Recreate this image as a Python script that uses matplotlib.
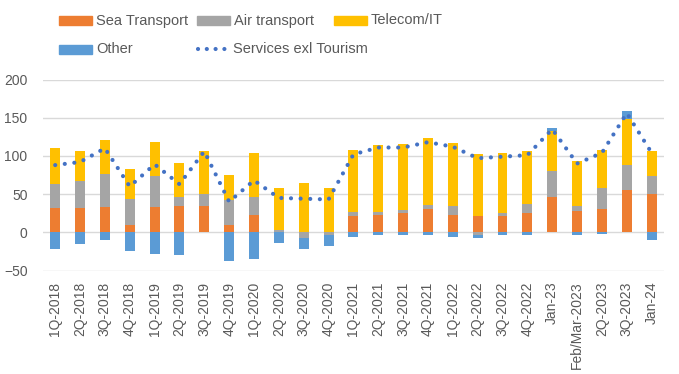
import matplotlib
import matplotlib.pyplot as plt
import numpy as np
from matplotlib.patches import Rectangle
from matplotlib.lines import Line2D

matplotlib.rcParams['font.family'] = ['Liberation Sans', 'DejaVu Sans']

# ---------------- data ---------------- #
quarters = ['1Q-2018', '2Q-2018', '3Q-2018', '4Q-2018', '1Q-2019', '2Q-2019', '3Q-2019',
            '4Q-2019', '1Q-2020', '2Q-2020', '3Q-2020', '4Q-2020', '1Q-2021', '2Q-2021',
            '3Q-2021', '4Q-2021', '1Q-2022', '2Q-2022', '3Q-2022', '4Q-2022', 'Jan-23',
            'Feb/Mar-2023', '2Q-2023', '3Q-2023', 'Jan-24']
sea = [32, 32, 33, 10, 33, 34, 34, 10, 23, 0, 0, 0, 22, 23, 25, 30, 23, 21, 22, 25,
       46, 28, 30, 55, 50]
air = [31, 35, 43, 33, 41, 12, 16, 32, 23, 3, -7, -3, 4, 3.5, 4, 6, 11, -3, 3, 12,
       34, 6, 28, 33, 24]
telecom = [47, 39, 45, 40, 44, 45, 56, 33, 58, 55, 65, 58, 82, 87.5, 86, 87, 83, 81, 79, 69,
           52, 59, 50, 60, 32]
other = [-22, -15, -10, -24, -28, -30, 0, -37, -35, -14, -14.5, -14.5, -6, -3, -4, -4, -6, -4,
         -4, -4, 4, -3, -2, 10.5, -10]
services = [88, 92, 110, 60, 89, 63, 106, 40, 68, 45, 44, 43, 102, 111, 111, 118, 112, 97,
            99, 101, 135, 90, 104, 156, 104]

# ---------------- plot ---------------- #
W, H = 679, 374
fig = plt.figure(figsize=(W / 100, H / 100), dpi=100)
ax = fig.add_axes([0.063, 0.2767, 0.915, 0.5107])

x = np.arange(len(quarters))
width = 0.4
pos_bottom = np.zeros(len(x))
neg_bottom = np.zeros(len(x))
series = [(sea, '#ED7D31'), (air, '#A5A5A5'), (telecom, '#FFC000'), (other, '#5B9BD5')]
for vals, col in series:
  v = np.array(vals, dtype=float)
  bottom = np.where(v >= 0, pos_bottom, neg_bottom)
  ax.bar(x, v, width, bottom=bottom, color=col, zorder=2)
  pos_bottom = pos_bottom + np.where(v >= 0, v, 0)
  neg_bottom = neg_bottom + np.where(v < 0, v, 0)

dots = (0, (0.01, 2.3))
ax.plot(x, services, color='#4472C4', linewidth=3, linestyle=dots,
        dash_capstyle='round', zorder=3)

ax.set_xlim(-0.5, len(x) - 0.5)
ax.set_ylim(-50, 200)
ax.set_yticks(np.arange(-50, 201, 50))
ax.set_xticks(x)
ax.set_xticklabels(quarters, rotation=90)
ax.tick_params(length=0, labelcolor='#595959')
ax.tick_params(axis='x', labelsize=10, pad=8)
ax.tick_params(axis='y', labelsize=10, pad=11)
ax.grid(axis='y', color='#D9D9D9', linewidth=1, zorder=0)
ax.set_axisbelow(True)
for s in ax.spines.values():
  s.set_visible(False)

# legend drawn by hand (pixel positions from the reference)
leg_font = dict(family=['Liberation Sans Narrow', 'Liberation Sans'], size=10.5, color='#595959')
patch_items = [(59, 20.5, '#ED7D31', 'Sea Transport'),
               (197, 20.5, '#A5A5A5', 'Air transport'),
               (334, 20.5, '#FFC000', 'Telecom/IT'),
               (59, 49, '#5B9BD5', 'Other')]
for px, py, col, lab in patch_items:
  fig.add_artist(Rectangle((px / W, 1 - (py + 4.5) / H), 33 / W, 9 / H,
                           color=col, transform=fig.transFigure))
  fig.text((px + 37) / W, 1 - py / H, lab, va='center', ha='left', **leg_font)
fig.add_artist(Line2D([198 / W, 228 / W], [1 - 49 / H, 1 - 49 / H], color='#4472C4',
                      linewidth=3, linestyle=(0, (0.01, 2.1)), dash_capstyle='round',
                      transform=fig.transFigure))
fig.text(233 / W, 1 - 49 / H, 'Services exl Tourism', va='center', ha='left', **leg_font)

plt.savefig('out.png', dpi=100)
